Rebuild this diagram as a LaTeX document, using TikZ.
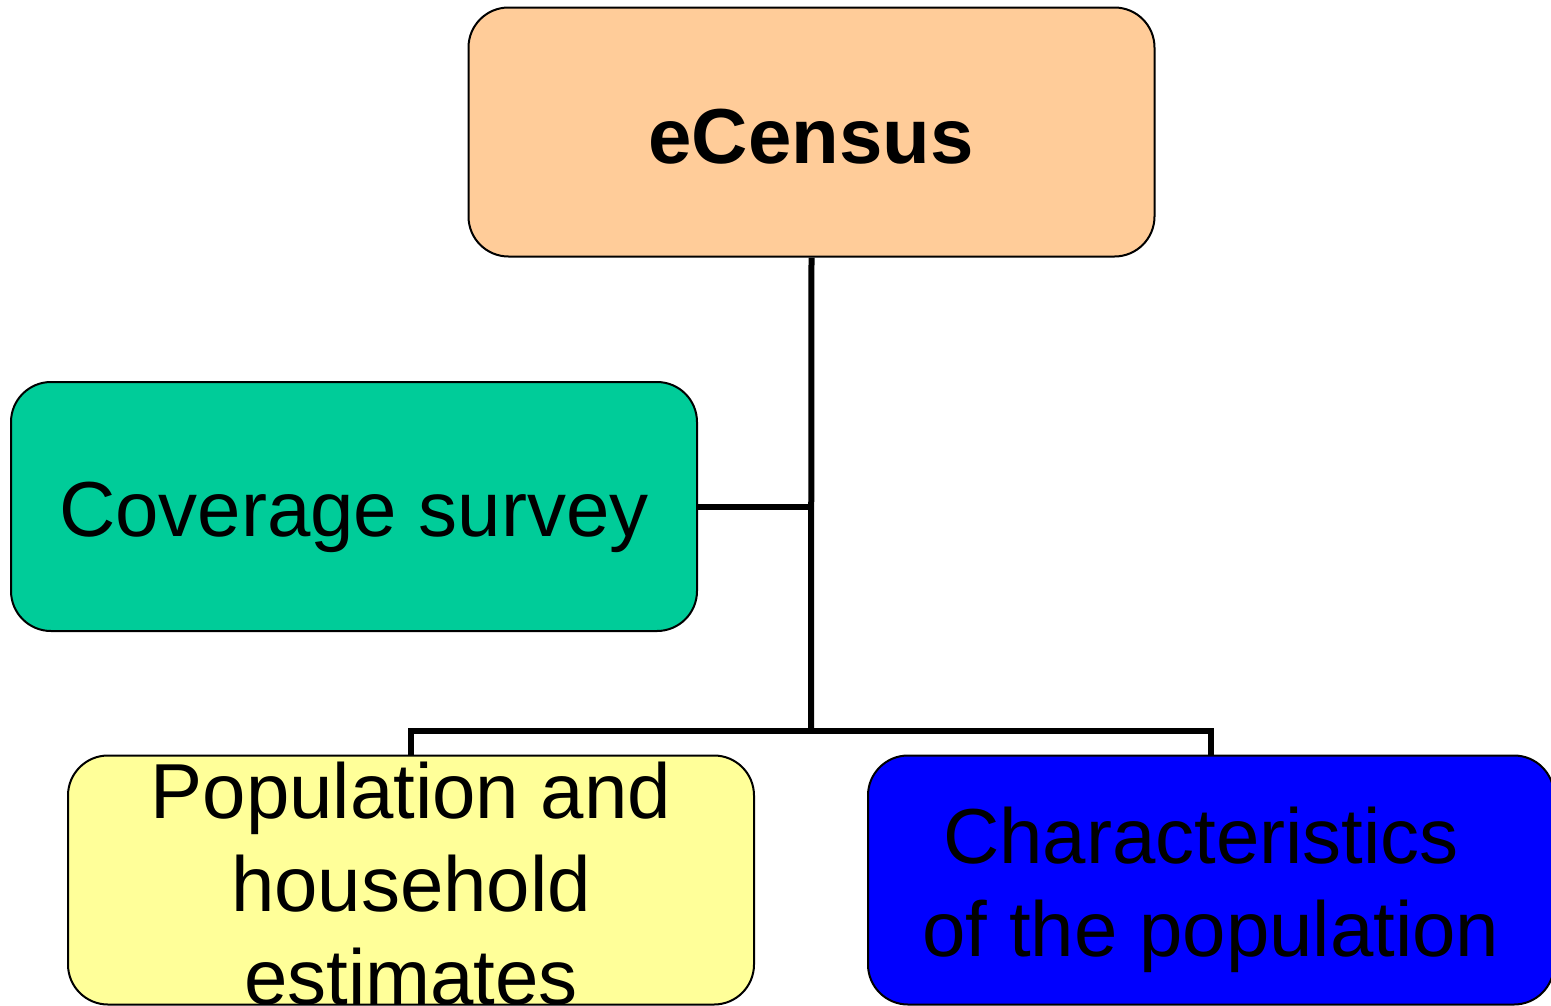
\documentclass[tikz,border=0pt]{standalone}
\usepackage{fontspec}
\setmainfont{Liberation Sans}
\begin{document}
\begin{tikzpicture}[x=1pt,y=-1pt,
  box/.style={draw=black,line width=2pt,rounded corners=40pt,minimum width=686pt,minimum height=249pt,inner sep=0pt},
  txt/.style={anchor=base,inner sep=0pt,font=\fontsize{78}{93.6}\selectfont},
  conn/.style={line width=6pt,draw=black}]
\definecolor{peach}{HTML}{FFCC99}
\definecolor{teal2}{HTML}{00CC99}
\definecolor{lyellow}{HTML}{FFFF99}
\definecolor{pblue}{HTML}{0000FF}
\useasboundingbox (0,0) rectangle (1551,1005);
\clip (0,0) rectangle (1551,1005);
\coordinate (j) at (811,731);
\node[box,fill=peach] (top) at (811.5,132) {};
\node[box,fill=teal2] (cov) at (354,506.5) {};
\node[box,fill=lyellow] (pop) at (411,880) {};
\node[box,fill=pblue] (chr) at (1211,880) {};
\node[txt,font=\fontsize{78}{93.6}\selectfont\bfseries] (topt) at (811,163) {eCensus};
\node[txt] (covt) at (354,536) {Coverage survey};
\node[txt] (pop1) at (411,818) {Population and};
\node[txt] (pop2) at (411,911) {household};
\node[txt] (pop3) at (411,1004) {estimates};
\node[txt] (chr1) at (1201,863) {Characteristics};
\node[txt] (chr2) at (1211,956) {of the population};
\draw[conn] (top.south) -- (j);
\draw[conn] (cov.east) -- (cov.east -| j);
\draw[conn] (pop.north) -- (pop.north |- j) -- (chr.north |- j) -- (chr.north);
\end{tikzpicture}
\end{document}
